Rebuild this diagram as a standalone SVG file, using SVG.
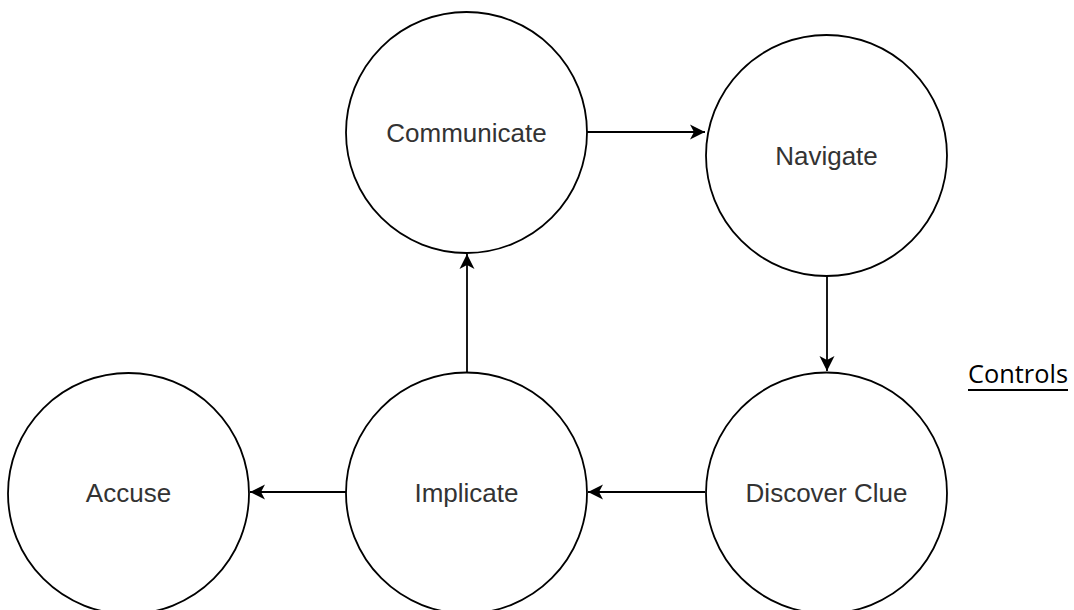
<svg xmlns="http://www.w3.org/2000/svg" width="1074" height="610" viewBox="0 0 1074 610">
  <style>
    .node circle { fill: #ffffff; stroke: #000000; stroke-width: 1.8; }
    .node text { font-family: "Liberation Sans", Arial, sans-serif; font-size: 26px; fill: #333333; text-anchor: middle; }
    .edge { stroke: #000000; stroke-width: 1.8; fill: none; marker-end: url(#arrow); }
    .title { font-family: "Open Sans", "Liberation Sans", sans-serif; font-size: 26px; fill: #000000; }
  </style>
  <defs>
    <!-- classic notched arrowhead, tip at the end of the line -->
    <marker id="arrow" markerUnits="userSpaceOnUse" markerWidth="18" markerHeight="18" viewBox="-16 -9 18 18" refX="0" refY="0" orient="auto">
      <path d="M0,0 L-15,-7.5 L-11,0 L-15,7.5 Z" fill="#000000"/>
    </marker>
  </defs>
  <rect width="1074" height="610" fill="#ffffff"/>

  <!-- connectors -->
  <g id="connectors">
    <line class="edge" x1="587" y1="132" x2="705" y2="132"/>
    <line class="edge" x1="827" y1="276" x2="827" y2="371"/>
    <line class="edge" x1="705" y1="492" x2="588" y2="492"/>
    <line class="edge" x1="467" y1="372" x2="467" y2="254"/>
    <line class="edge" x1="346" y1="492" x2="250" y2="492"/>
  </g>

  <g id="communicate" class="node">
    <circle cx="466.5" cy="132.5" r="120.5"/>
    <text x="466.5" y="142">Communicate</text>
  </g>
  <g id="navigate" class="node">
    <circle cx="826.5" cy="155.5" r="120.5"/>
    <text x="826.5" y="164.5">Navigate</text>
  </g>
  <g id="discover-clue" class="node">
    <circle cx="826.5" cy="493" r="120.5"/>
    <text x="826.5" y="501.5">Discover Clue</text>
  </g>
  <g id="implicate" class="node">
    <circle cx="466.5" cy="493" r="120.5"/>
    <text x="466.5" y="501.5">Implicate</text>
  </g>
  <g id="accuse" class="node">
    <circle cx="128.5" cy="493.5" r="120.5"/>
    <text x="128.5" y="502">Accuse</text>
  </g>

  <g id="controls">
    <text class="title" x="968" y="383" textLength="100" lengthAdjust="spacingAndGlyphs">Controls</text>
    <line x1="968" y1="390" x2="1068" y2="390" stroke="#000000" stroke-width="2"/>
  </g>
</svg>
